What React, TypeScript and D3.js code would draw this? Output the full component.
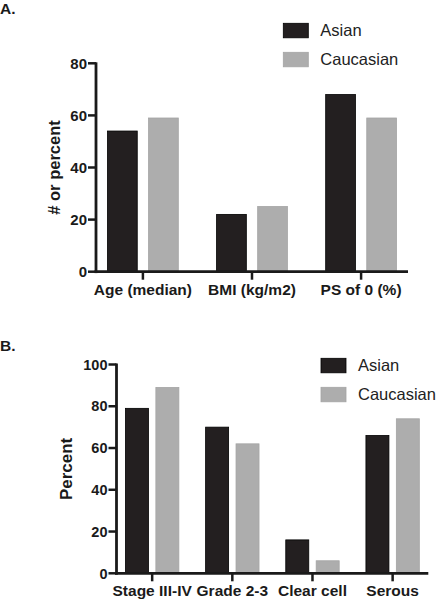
import React from "react";
import * as d3 from "d3";

const seriesNames = ["Asian", "Caucasian"];
const seriesColors = ["#231f20", "#adadad"];

const catsA = ["Age (median)", "BMI (kg/m2)", "PS of 0 (%)"];
const asianA = [54, 22, 68];
const caucA = [59, 25, 59];
const ticksA = [0, 20, 40, 60, 80];

const catsB = ["Stage III-IV", "Grade 2-3", "Clear cell", "Serous"];
const asianB = [79, 70, 16, 66];
const caucB = [89, 62, 6, 74];
const ticksB = [0, 20, 40, 60, 80, 100];

const FONT = "'Liberation Sans', Arial, Helvetica, sans-serif";

type PanelProps = {
  label: string;
  labelY: number;
  cats: string[];
  series: number[][];
  ticks: number[];
  yMax: number;
  x0: number;
  x1: number;
  yBottom: number;
  yTop: number;
  pointPad: number;
  groupHalf: number;
  innerPad: number;
  yTitle: string;
  yTitleX: number;
  yTitleSize: number;
  tickSize: number;
  catSize: number;
  catBaseline: number;
  legendX: number;
  legendY: number;
  legendGap: number;
};

function Panel(p: PanelProps) {
  const x = d3.scalePoint<string>().domain(p.cats).range([p.x0, p.x1]).padding(p.pointPad);
  const y = d3.scaleLinear().domain([0, p.yMax]).range([p.yBottom, p.yTop]);
  const sub = d3
    .scaleBand<string>()
    .domain(seriesNames)
    .range([-p.groupHalf, p.groupHalf])
    .paddingInner(p.innerPad)
    .paddingOuter(0);
  const axisColor = "#1a1a1a";
  return (
    <g>
      <text x={0} y={p.labelY} fontFamily={FONT} fontWeight="bold" fontSize={15.5} fill="#1a1a1a">
        {p.label}
      </text>
      {p.cats.map((c, i) =>
        p.series.map((s, j) => {
          const bx = (x(c) as number) + (sub(seriesNames[j]) as number);
          return (
            <rect
              key={c + j}
              x={bx}
              y={y(s[i])}
              width={sub.bandwidth()}
              height={y(0) - y(s[i])}
              fill={seriesColors[j]}
              stroke={j === 0 ? "#000" : "#a4a4a4"}
              strokeWidth={0.8}
            />
          );
        })
      )}
      {/* y axis */}
      <line x1={p.x0} x2={p.x0} y1={p.yTop - 1} y2={p.yBottom + 1.4} stroke={axisColor} strokeWidth={2.8} />
      {p.ticks.map((t) => (
        <g key={t}>
          <line x1={p.x0 - 8} x2={p.x0} y1={y(t)} y2={y(t)} stroke={axisColor} strokeWidth={2.5} />
          <text
            x={p.x0 - 9}
            y={y(t)}
            dy="0.36em"
            textAnchor="end"
            fontFamily={FONT}
            fontWeight="bold"
            fontSize={p.tickSize}
            fill="#1a1a1a"
          >
            {t}
          </text>
        </g>
      ))}
      {/* x axis */}
      <line x1={p.x0 - 1.4} x2={p.x1} y1={p.yBottom} y2={p.yBottom} stroke={axisColor} strokeWidth={2.8} />
      {p.cats.map((c) => (
        <g key={c}>
          <line x1={x(c)} x2={x(c)} y1={p.yBottom} y2={p.yBottom + 8} stroke={axisColor} strokeWidth={2.5} />
          <text
            x={x(c)}
            y={p.catBaseline}
            textAnchor="middle"
            fontFamily={FONT}
            fontWeight="bold"
            fontSize={p.catSize}
            fill="#1a1a1a"
          >
            {c}
          </text>
        </g>
      ))}
      <text
        transform={`translate(${p.yTitleX},${(p.yTop + p.yBottom) / 2}) rotate(-90)`}
        textAnchor="middle"
        fontFamily={FONT}
        fontWeight="bold"
        fontSize={p.yTitleSize}
        fill="#1a1a1a"
      >
        {p.yTitle}
      </text>
      {seriesNames.map((n, j) => (
        <g key={n}>
          <rect
            x={p.legendX}
            y={p.legendY + j * p.legendGap}
            width={25}
            height={14.5}
            fill={seriesColors[j]}
            stroke={j === 0 ? "#000" : "#a4a4a4"}
            strokeWidth={0.8}
          />
          <text
            x={p.legendX + 37}
            y={p.legendY + j * p.legendGap + 12.8}
            fontFamily={FONT}
            fontSize={16.5}
            fill="#222"
          >
            {n}
          </text>
        </g>
      ))}
    </g>
  );
}

export default function App() {
  return (
    <svg
      width={436}
      height={600}
      style={{ position: "absolute", left: 0, top: 0, background: "#fff" }}
    >
      <rect width={436} height={600} fill="#fff" />
      <Panel
        label="A."
        labelY={13.5}
        cats={catsA}
        series={[asianA, caucA]}
        ticks={ticksA}
        yMax={80}
        x0={96}
        x1={408}
        yBottom={271.7}
        yTop={63.3}
        pointPad={0.43}
        groupHalf={35.4}
        innerPad={0.276}
        yTitle="# or percent"
        yTitleX={60}
        yTitleSize={16.5}
        tickSize={15}
        catSize={15.5}
        catBaseline={294.5}
        legendX={283.3}
        legendY={23.3}
        legendGap={29}
      />
      <Panel
        label="B."
        labelY={351}
        cats={catsB}
        series={[asianB, caucB]}
        ticks={ticksB}
        yMax={100}
        x0={116.5}
        x1={428.3}
        yBottom={573.3}
        yTop={364.5}
        pointPad={0.445}
        groupHalf={26.7}
        innerPad={0.244}
        yTitle="Percent"
        yTitleX={72}
        yTitleSize={17}
        tickSize={14.5}
        catSize={15.5}
        catBaseline={596}
        legendX={321}
        legendY={358.3}
        legendGap={29}
      />
    </svg>
  );
}
